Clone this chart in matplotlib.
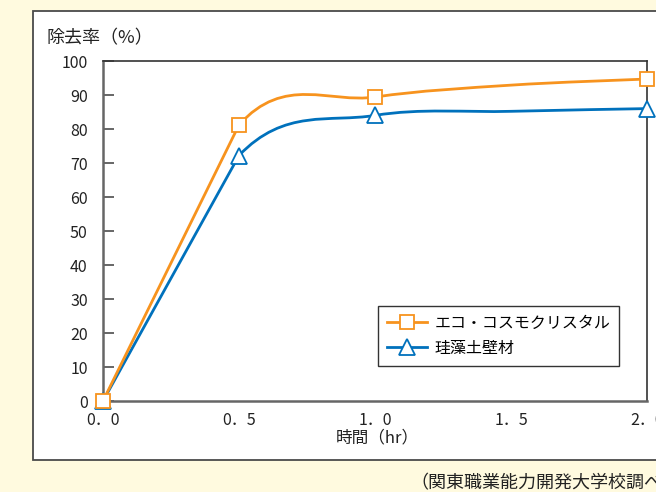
import matplotlib
matplotlib.use("Agg")
import matplotlib.pyplot as plt
from matplotlib.path import Path
from matplotlib.patches import PathPatch, Rectangle
from matplotlib.lines import Line2D
import numpy as np

plt.rcParams['font.family'] = ['Noto Sans CJK JP', 'DejaVu Sans']

# ---- data ----
hours = [0.0, 0.5, 1.0, 1.5, 2.0]
eco_cosmo = [0.0, 81.2, 89.4, 92.9, 94.7]     # エコ・コスモクリスタル
keisoudo = [0.0, 72.2, 84.0, 85.2, 86.0]      # 珪藻土壁材
marker_idx = [0, 1, 2, 4]
series_names = ["エコ・コスモクリスタル", "珪藻土壁材"]
x_ticks = [0.0, 0.5, 1.0, 1.5, 2.0]
x_ticklabels = ["0．0", "0．5", "1．0", "1．5", "2．0"]
y_ticks = list(range(0, 101, 10))

ORANGE = "#F7931E"
BLUE = "#0071BC"
BG = "#FFFADF"

fig = plt.figure(figsize=(6.56, 4.92), dpi=100, facecolor=BG)
W, H = 656, 492

# outer white frame
fig.patches.append(Rectangle((33 / W, (H - 460) / H), 1.2, (460 - 11) / H,
                             transform=fig.transFigure, facecolor="white",
                             edgecolor="#4a4a4a", lw=1.3, zorder=-5))

ax = fig.add_axes([103 / W, (H - 401) / H, (647 - 103) / W, (401 - 61) / H])
ax.set_zorder(2)
ax.set_facecolor("white")
ax.set_xlim(0, 2)
ax.set_ylim(0, 100)


def smooth_path(xs, ys):
    pts = np.column_stack([xs, ys])
    n = len(pts)
    verts = [pts[0]]
    codes = [Path.MOVETO]
    for i in range(n - 1):
        p1 = pts[i]
        p2 = pts[i + 1]
        if i == 0:
            # first rise drawn as a straight stroke
            c1 = p1 + (p2 - p1) / 3.0
            c2 = p1 + 2.0 * (p2 - p1) / 3.0
        else:
            p0 = pts[i - 1]
            p3 = pts[i + 2] if i + 2 < n else pts[i + 1]
            c1 = p1 + (p2 - p0) / 6.0
            c2 = p2 - (p3 - p1) / 6.0
        verts += [c1, c2, p2]
        codes += [Path.CURVE4] * 3
    return Path(verts, codes)


for ys, col, mk, ms, name in [(keisoudo, BLUE, "^", 11, series_names[1]),
                              (eco_cosmo, ORANGE, "s", 10, series_names[0])]:
    ax.add_patch(PathPatch(smooth_path(hours, ys), facecolor="none",
                           edgecolor=col, lw=2.0, zorder=3, clip_on=False))
    mx = [hours[i] for i in marker_idx]
    my = [ys[i] for i in marker_idx]
    ax.plot(mx, my, linestyle="none", marker=mk, ms=ms, mfc="white",
            mec=col, mew=1.3, zorder=4, clip_on=False)

# legend handles
handles = [Line2D([], [], color=ORANGE, lw=2.0, marker="s", ms=10, mfc="white", mec=ORANGE, mew=1.3),
           Line2D([], [], color=BLUE, lw=2.0, marker="^", ms=11, mfc="white", mec=BLUE, mew=1.3)]
leg = ax.legend(handles, series_names, loc="upper left",
                bbox_to_anchor=((378 - 103) / (647 - 103), (401 - 306) / (401 - 61)),
                fontsize=11.5, frameon=True, fancybox=False, edgecolor="#333333",
                framealpha=1, handlelength=2.5, handletextpad=0.5,
                borderpad=0.55, labelspacing=0.5, borderaxespad=0)
leg.get_frame().set_linewidth(1.0)
leg.set_zorder(10)

# spines
for s in ["top", "right"]:
    ax.spines[s].set_color("#333333")
    ax.spines[s].set_linewidth(1.2)
for s in ["left", "bottom"]:
    ax.spines[s].set_color("#666666")
    ax.spines[s].set_linewidth(1.8)

ax.set_yticks(y_ticks)
ax.set_yticklabels([str(v) for v in y_ticks])
ax.set_xticks(x_ticks)
ax.set_xticklabels(x_ticklabels)
ax.tick_params(axis="y", direction="in", length=8, width=1.4, color="#666666",
               labelsize=11.5, pad=11, labelcolor="#222222")
ax.tick_params(axis="x", length=0, labelsize=11.5, pad=8, labelcolor="#222222")

fig.text(46 / W, 1 - 38 / H, "除去率（%）", fontsize=13, ha="left", va="center", color="#222222")
fig.text(377 / W, 1 - 438 / H, "時間（hr）", fontsize=12, ha="center", va="center", color="#222222")
fig.text(410 / W, 1 - 483 / H, "（関東職業能力開発大学校調べ）", fontsize=13, ha="left",
         va="center", color="#222222")

fig.savefig("out.png", dpi=100, facecolor=BG)
